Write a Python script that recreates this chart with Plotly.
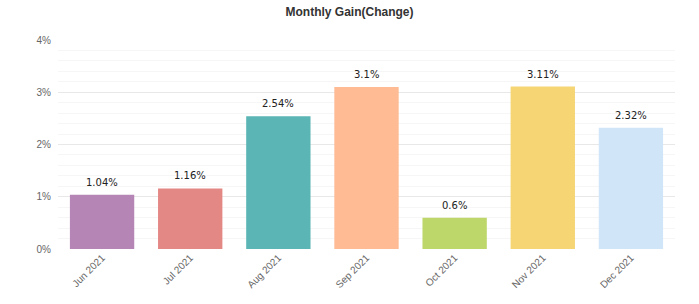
import plotly.graph_objects as go

months = ["Jun 2021", "Jul 2021", "Aug 2021", "Sep 2021", "Oct 2021", "Nov 2021", "Dec 2021"]
gains = [1.04, 1.16, 2.54, 3.1, 0.6, 3.11, 2.32]
labels = ["1.04%", "1.16%", "2.54%", "3.1%", "0.6%", "3.11%", "2.32%"]
colors = ["#b586b5", "#e48886", "#5bb5b4", "#febb94", "#bdd76b", "#f5d574", "#d1e5f9"]
yticks = [0, 1, 2, 3, 4]
yticklabels = ["0%", "1%", "2%", "3%", "4%"]

fig = go.Figure(go.Bar(
    x=months, y=gains,
    marker=dict(color=colors, line=dict(width=0)),
    cliponaxis=False, width=0.73,
))
for m, g, t in zip(months, gains, labels):
    fig.add_annotation(x=m, y=g, text=t, showarrow=False, yanchor="bottom", yshift=5,
                       font=dict(family="DejaVu Sans, Arial", size=10, color="#222"))
fig.update_layout(
    width=699, height=304,
    margin=dict(l=58, r=24, t=40, b=55),
    paper_bgcolor="white", plot_bgcolor="white",
    title=dict(text="<b>Monthly Gain(Change)</b>", x=0.5, xanchor="center", y=0.96, yanchor="middle",
               font=dict(family="Arial, Liberation Sans", size=12, color="#333")),
    showlegend=False,
    font=dict(family="Arial, Liberation Sans", size=10, color="#666"),
)
fig.update_yaxes(range=[0, 4], tickvals=yticks, ticktext=yticklabels,
                 showgrid=True, gridcolor="#e8e8e8", gridwidth=1, zeroline=False,
                 ticks="", ticklabelstandoff=6,
                 minor=dict(dtick=0.2, showgrid=True, gridcolor="#f6f6f6", gridwidth=1),
                 tickfont=dict(size=10, color="#666"))
fig.update_xaxes(tickangle=-45, showgrid=False, ticks="", showline=False,
                 tickfont=dict(size=10, color="#666"))

fig.write_html("out.html")
